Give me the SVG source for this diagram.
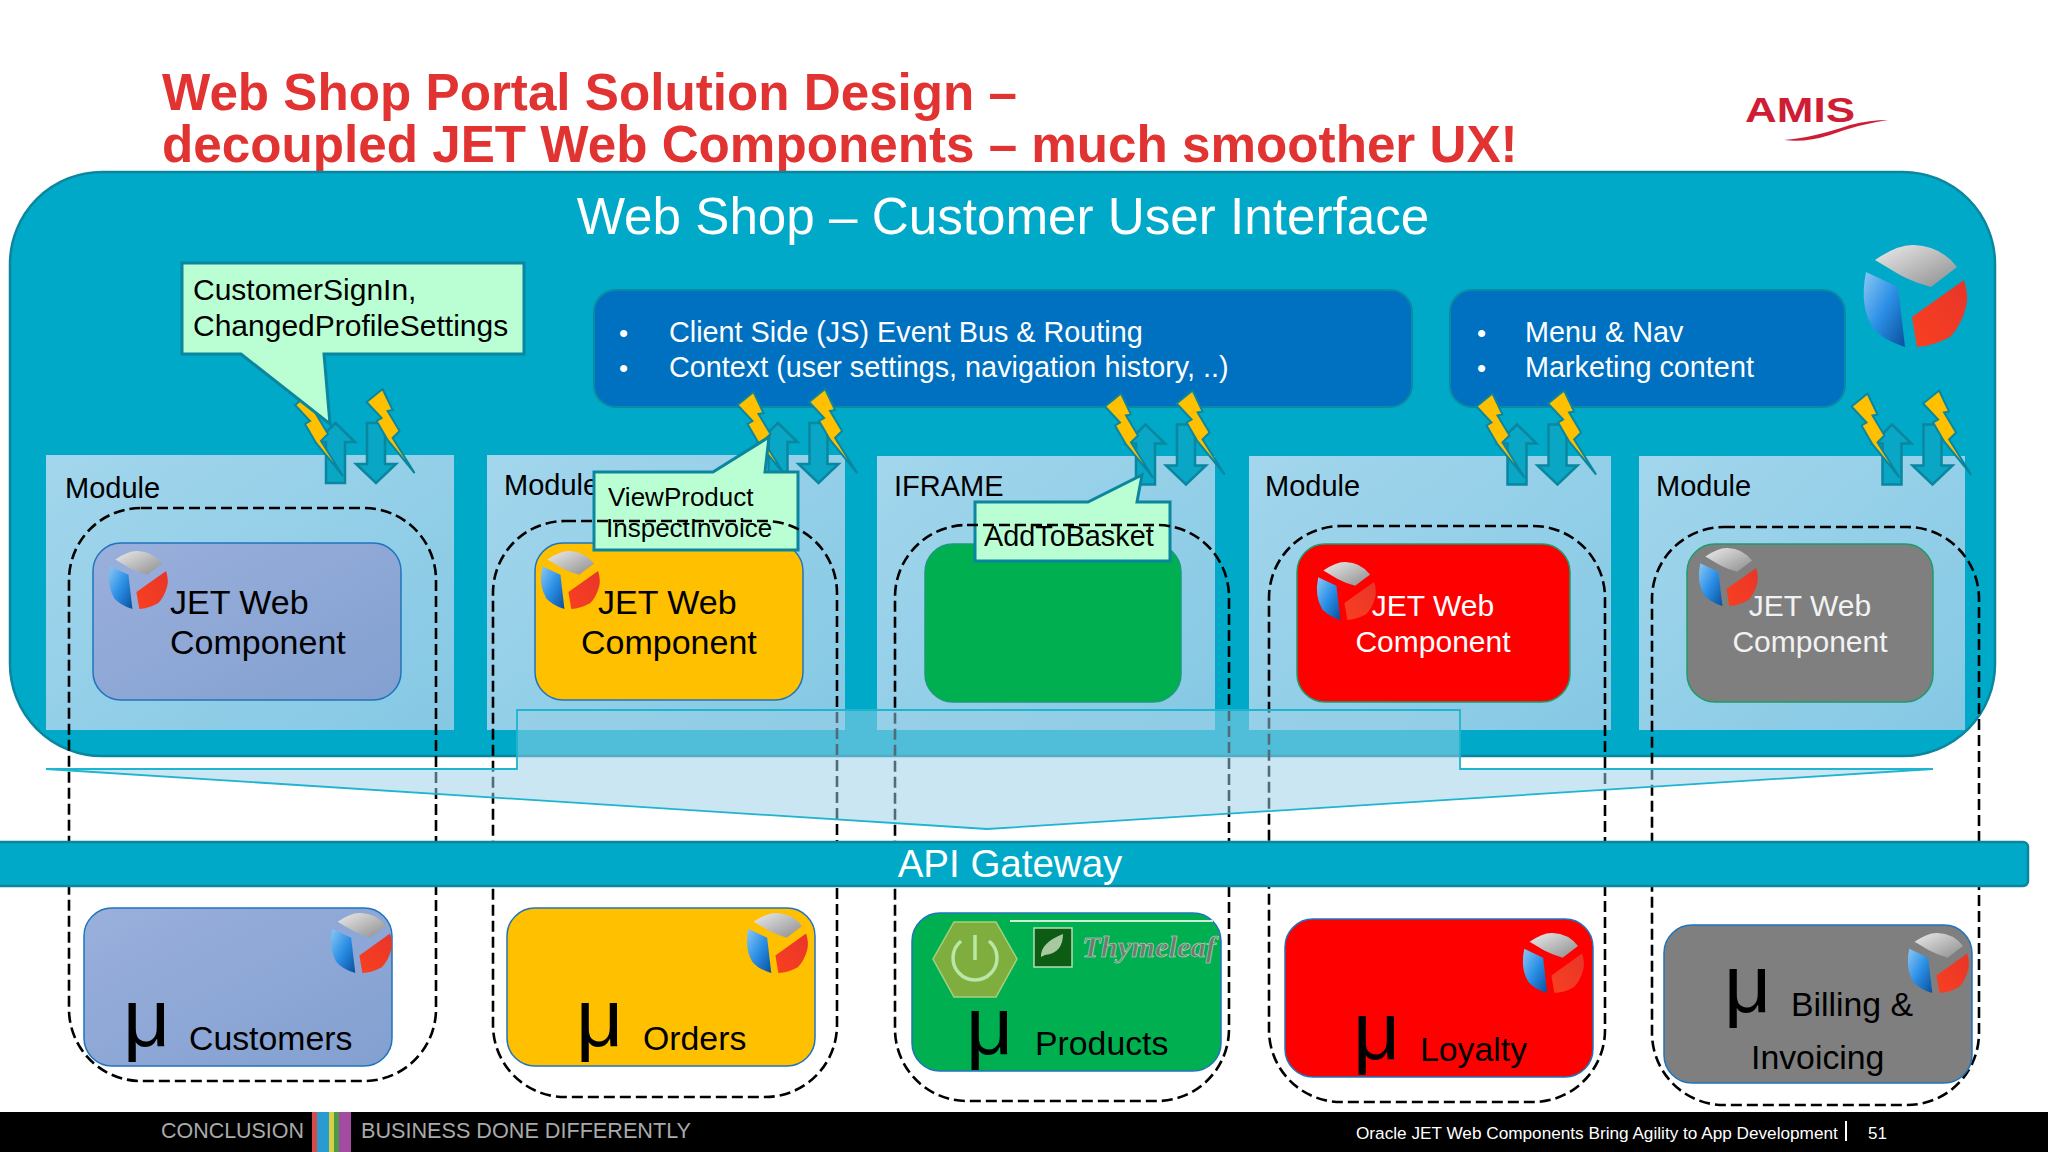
<svg xmlns="http://www.w3.org/2000/svg" xmlns:xlink="http://www.w3.org/1999/xlink" width="2048" height="1152" viewBox="0 0 2048 1152">
<style>
text{font-family:"Liberation Sans",Arial,sans-serif}
.mod{fill:url(#modG)}
.lbl{font-size:29px;fill:#000}
.dash{fill:none;stroke:#000;stroke-width:2.6;stroke-dasharray:11 5}
.card{stroke:#1f74bd;stroke-width:1.5}
.call{fill:#baffd3;stroke:#0a869f;stroke-width:3}
.k33{font-size:33.800px;fill:#000}
.mu{font-size:82px;fill:#000}
.w{fill:#fff;font-size:26px}
.arrow{fill:#0aa6c6;stroke:#0a869f;stroke-width:2.5}
.bolt{fill:#ffc000;stroke:#0a869f;stroke-width:2}
.blue{fill:#0070c0;stroke:#0a8aa5;stroke-width:2}
</style>
<defs>
<linearGradient id="modG" x1="0" y1="0" x2="1" y2="1"><stop offset="0" stop-color="#a2d6ec"/><stop offset="1" stop-color="#85c8e4"/></linearGradient>
<linearGradient id="cardB" x1="0" y1="0" x2="1" y2="1"><stop offset="0" stop-color="#9aafdc"/><stop offset="1" stop-color="#82a0d0"/></linearGradient>
<linearGradient id="gr" x1="0" y1="0" x2="1" y2="1"><stop offset="0" stop-color="#ececec"/><stop offset="1" stop-color="#8c8c8c"/></linearGradient>
<linearGradient id="bl" x1="0" y1="0" x2="1" y2="1"><stop offset="0" stop-color="#8cc8f4"/><stop offset="0.5" stop-color="#2b8fe6"/><stop offset="1" stop-color="#0a4f9c"/></linearGradient>
<linearGradient id="rd" x1="1" y1="0" x2="0" y2="1"><stop offset="0" stop-color="#e8352a"/><stop offset="1" stop-color="#f84020"/></linearGradient>
<g id="jet">
<path fill="url(#gr)" d="M-38-36Q-15-52 1-51Q28-50 44-29L18-9Q0-14-13-21Z"/>
<path fill="url(#bl)" d="M-47-24L-15-9L-8 51Q-30 44-40 32Q-54 10-47-24Z"/>
<path fill="url(#rd)" d="M51-16Q56 0 53 11Q48 30 37 41Q20 50 4 51L-1 21Z"/>
</g>
<polygon id="b" class="bolt" points="0,0 10,21 5,22 17,42 10,49 32,84 5,51 -6,32 -1,29 -16,13"/>
<g id="pair">
<polygon class="arrow" points="335.500,423 355,442 345,442 345,483 326,483 326,442 316,442"/>
<polygon class="arrow" points="367,423 385,423 385,464 396,464 376,483 356,464 367,464"/>
<use href="#b" x="311" y="392"/>
<use href="#b" x="382.600" y="389"/>
</g>
</defs>

<rect width="2048" height="1152" fill="#fff"/>

<g id="title" fill="#e23333">
<text x="162" y="110" style="font-size:51.200px;font-weight:bold">Web Shop Portal Solution Design –</text>
<text x="162" y="162" style="font-size:51.200px;font-weight:bold">decoupled JET Web Components – much smoother UX!</text>
</g>
<g id="amis-logo">
<text x="1745" y="122" fill="#cf1d35" textLength="110" lengthAdjust="spacingAndGlyphs" style="font-size:35px;font-weight:bold">AMIS</text>
<path fill="#cf1d35" d="M1784 140Q1812 138 1850 125Q1870 120 1888 120Q1860 124 1830 135Q1805 143 1784 140Z"/>
</g>

<g id="ui-panel">
<rect x="10" y="172" width="1985" height="584" rx="92" fill="#00a9c8" stroke="#0a869f" stroke-width="2.500"/>
<text x="1003" y="234" text-anchor="middle" fill="#fff" style="font-size:51.200px">Web Shop – Customer User Interface</text>
<use href="#jet" x="1913" y="296"/>
</g>

<g id="event-bus">
<rect class="blue" x="594" y="290" width="818" height="117" rx="22"/>
<text class="w" x="619" y="342">•</text><text class="w" x="669" y="342" style="font-size:28.800px">Client Side (JS) Event Bus &amp; Routing</text>
<text class="w" x="619" y="377">•</text><text class="w" x="669" y="377" style="font-size:28.800px">Context (user settings, navigation history, ..)</text>
</g>
<g id="menu-nav">
<rect class="blue" x="1450" y="290" width="395" height="117" rx="22"/>
<text class="w" x="1477" y="342">•</text><text class="w" x="1525" y="342" style="font-size:28.800px">Menu &amp; Nav</text>
<text class="w" x="1477" y="377">•</text><text class="w" x="1525" y="377" style="font-size:28.800px">Marketing content</text>
</g>

<g id="module-1"><rect class="mod" x="46" y="455" width="408" height="275"/><text class="lbl" x="65" y="498">Module</text></g>
<g id="module-2"><rect class="mod" x="487" y="455" width="358" height="275"/><text class="lbl" x="504" y="495">Module</text></g>
<g id="module-3"><rect class="mod" x="877" y="456" width="338" height="274"/><text class="lbl" x="894" y="496">IFRAME</text></g>
<g id="module-4"><rect class="mod" x="1249" y="456" width="362" height="274"/><text class="lbl" x="1265" y="496">Module</text></g>
<g id="module-5"><rect class="mod" x="1639" y="456" width="326" height="274"/><text class="lbl" x="1656" y="496">Module</text></g>

<g id="connectors">
<use href="#pair"/>
<use href="#pair" x="442.500"/>
<use href="#pair" x="810" y="1.500"/>
<use href="#pair" x="1181.500" y="1.500"/>
<use href="#pair" x="1556.500" y="1.500"/>
</g>

<g id="card-1"><rect class="card" x="93" y="543" width="308" height="157" rx="28" fill="url(#cardB)"/>
<text x="170" y="614" style="font-size:34px">JET Web</text><text x="170" y="654" style="font-size:34px">Component</text><use href="#jet" transform="translate(137 580) scale(.57)"/></g>
<g id="card-2"><rect class="card" x="535" y="543" width="268" height="157" rx="28" fill="#ffc000"/>
<text x="598" y="614" style="font-size:34px">JET Web</text><text x="581" y="654" style="font-size:34px">Component</text><use href="#jet" transform="translate(569 580) scale(.57)"/></g>
<g id="card-3"><rect x="925" y="544" width="256" height="158" rx="28" fill="#00b050" stroke="#1a9a7a" stroke-width="1.500"/></g>
<g id="card-4"><rect x="1297" y="544" width="273" height="158" rx="28" fill="#f00" stroke="#1f9a6a" stroke-width="1.500"/>
<text x="1433" y="616" text-anchor="middle" fill="#fff" style="font-size:30px">JET Web</text><text x="1433" y="652" text-anchor="middle" fill="#fff" style="font-size:30px">Component</text><use href="#jet" transform="translate(1345 591) scale(.57)"/></g>
<g id="card-5"><rect x="1687" y="544" width="246" height="158" rx="28" fill="#7f7f7f" stroke="#1f9a6a" stroke-width="1.500"/>
<text x="1810" y="616" text-anchor="middle" fill="#f2f2f2" style="font-size:30px">JET Web</text><text x="1810" y="652" text-anchor="middle" fill="#f2f2f2" style="font-size:30px">Component</text><use href="#jet" transform="translate(1727 577) scale(.57)"/></g>

<g id="callout-signin">
<path class="call" d="M182 263H524V354H324L330 424L241 354H182Z"/>
<text x="193" y="300" style="font-size:30px">CustomerSignIn,</text><text x="193" y="336" style="font-size:30px">ChangedProfileSettings</text>
</g>
<g id="callout-view">
<path class="call" d="M594 472H713L769 437L765 472H798V550H594Z"/>
<text x="608" y="506" style="font-size:26px">ViewProduct</text><text x="606" y="537" style="font-size:26px">InspectInvoice</text>
</g>
<g id="callout-basket">
<path class="call" d="M975 502H1088L1142 475L1137 502H1170V561H975Z"/>
<text x="984" y="546" style="font-size:28.800px">AddToBasket</text>
</g>

<g id="dashed-boundaries">
<rect class="dash" x="69" y="508" width="367" height="573" rx="72"/>
<rect class="dash" x="493" y="521" width="344" height="576" rx="72"/>
<rect class="dash" x="895" y="525" width="334" height="576" rx="72"/>
<rect class="dash" x="1269" y="526" width="336" height="576" rx="72"/>
<rect class="dash" x="1652" y="527" width="327" height="578" rx="72"/>
</g>

<g id="gateway-funnel">
<polygon points="517,710 1460,710 1460,769 1933,769 987,829 46,769 517,769" fill="#9ad0e8" fill-opacity=".52" stroke="#1fb4cf" stroke-width="1.800"/>
</g>

<g id="api-gateway">
<rect x="-8" y="842" width="2036" height="44" rx="5" fill="#00a9c8" stroke="#0a869f" stroke-width="2.500"/>
<text x="1010" y="877" text-anchor="middle" fill="#fff" style="font-size:38.500px">API Gateway</text>
</g>

<g id="svc-customers"><rect class="card" x="84" y="908" width="308" height="158" rx="28" fill="url(#cardB)"/>
<use href="#jet" transform="translate(360 943) scale(.59)"/>
<text class="mu" x="123" y="1046">μ</text><text class="k33" x="189" y="1050">Customers</text></g>
<g id="svc-orders"><rect class="card" x="507" y="908" width="308" height="158" rx="28" fill="#ffc000"/>
<use href="#jet" transform="translate(776 943) scale(.59)"/>
<text class="mu" x="576" y="1046">μ</text><text class="k33" x="643" y="1050">Orders</text></g>
<g id="svc-products"><rect class="card" x="912" y="913" width="309" height="158" rx="28" fill="#00b050"/>
<path d="M1010 921H1213" stroke="#cfead8" stroke-width="2" fill="none"/>
<polygon points="933,959 954,922 996,922 1017,959 996,997 954,997" fill="#7fae3e" stroke="#a8d080" stroke-width="1.500"/>
<path d="M961 941A22 22 0 1 0 989 941" fill="none" stroke="#b8e8a8" stroke-width="3.500"/><path d="M975 935V960" stroke="#b8e8a8" stroke-width="3.500"/>
<rect x="1034" y="928" width="38" height="39" fill="#0d5c14" stroke="#b6dcb6" stroke-width="1.500"/>
<path d="M1041 957Q1040 943 1063 934Q1063 953 1045 955Z" fill="#a8c8a0"/>
<text x="1082" y="957" fill="#6e7a72" stroke="#cfe0d0" stroke-width=".5" style="font-family:'Liberation Serif',serif;font-size:29px;font-style:italic;font-weight:bold" textLength="134" lengthAdjust="spacingAndGlyphs">Thymeleaf</text>
<text class="mu" x="966" y="1054">μ</text><text class="k33" x="1035" y="1055">Products</text></g>
<g id="svc-loyalty"><rect class="card" x="1285" y="919" width="308" height="158" rx="28" fill="#f00"/>
<use href="#jet" transform="translate(1552 963) scale(.59)"/>
<text class="mu" x="1353" y="1059">μ</text><text class="k33" x="1420" y="1061">Loyalty</text></g>
<g id="svc-billing"><rect class="card" x="1664" y="925" width="308" height="158" rx="28" fill="#7f7f7f"/>
<use href="#jet" transform="translate(1937 963) scale(.59)"/>
<text class="mu" x="1724" y="1012">μ</text><text class="k33" x="1791" y="1016">Billing &amp;</text><text class="k33" x="1751" y="1069">Invoicing</text></g>

<g id="footer">
<rect y="1112" width="2048" height="40" fill="#000"/>
<text x="161" y="1138" fill="#aaa" textLength="143" lengthAdjust="spacingAndGlyphs" style="font-size:22px">CONCLUSION</text>
<rect x="312" y="1112" width="5" height="40" fill="#d84a4a"/><rect x="317" y="1112" width="12" height="40" fill="#2a9bd0"/><rect x="329" y="1112" width="5" height="40" fill="#d8d040"/><rect x="334" y="1112" width="5" height="40" fill="#4a9a4a"/><rect x="339" y="1112" width="12" height="40" fill="#a24ba0"/>
<text x="361" y="1138" fill="#aaa" textLength="330" lengthAdjust="spacingAndGlyphs" style="font-size:22px">BUSINESS DONE DIFFERENTLY</text>
<text x="1356" y="1139" fill="#fff" style="font-size:17.200px">Oracle JET Web Components Bring Agility to App Development</text>
<rect x="1845" y="1121" width="2" height="20" fill="#fff"/>
<text x="1868" y="1139" fill="#fff" style="font-size:17px">51</text>
</g>
</svg>
